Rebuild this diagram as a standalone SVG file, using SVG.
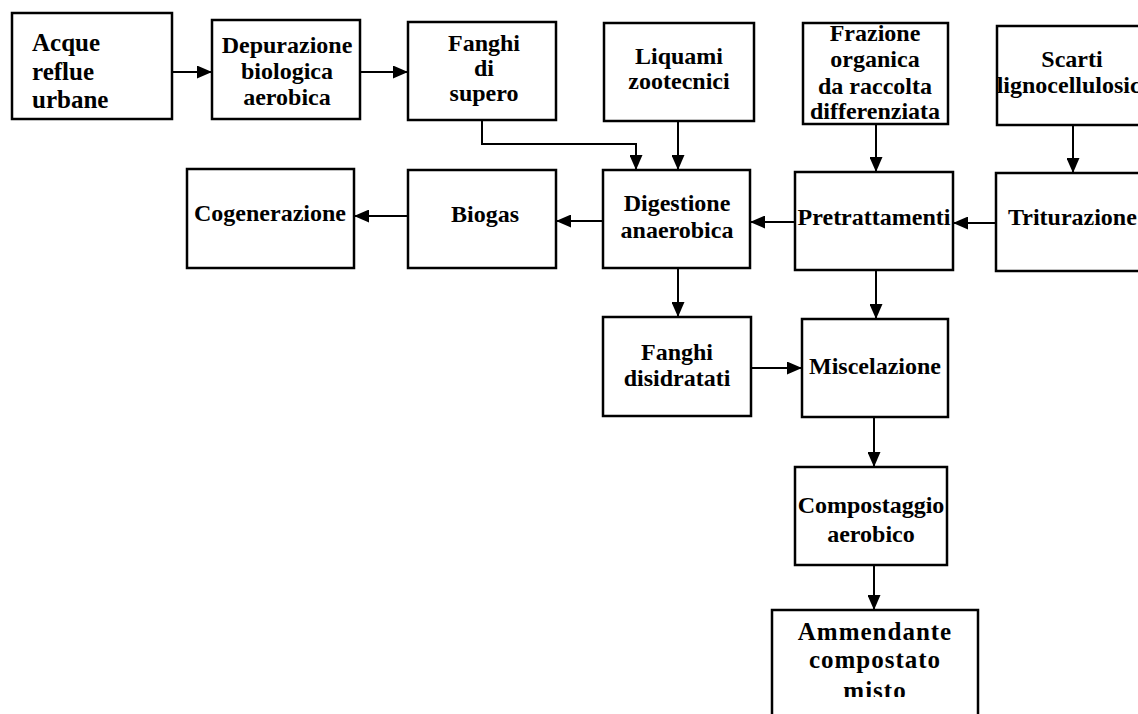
<svg xmlns="http://www.w3.org/2000/svg" width="1138" height="714" viewBox="0 0 1138 714">
<style>
.box{fill:#fff;stroke:#000;stroke-width:2.5}
.t{font-family:"Liberation Serif","Times New Roman",serif;font-weight:bold;font-size:24px;fill:#000;text-anchor:middle}
.l{fill:none;stroke:#000;stroke-width:2}
</style>
<defs>
<marker id="ah" markerUnits="userSpaceOnUse" markerWidth="15" markerHeight="13" refX="14" refY="6.5" orient="auto">
<path d="M0,0 L15,6.5 L0,13 Z" fill="#000"/>
</marker>
<clipPath id="clipAmm"><rect x="760" y="600" width="230" height="97"/></clipPath>
</defs>
<rect width="1138" height="714" fill="#fff"/>

<g id="connectors">
<path class="l" d="M172,72 H211" marker-end="url(#ah)"/>
<path class="l" d="M360,72 H407" marker-end="url(#ah)"/>
<path class="l" d="M482,120 V144 H636 V169" marker-end="url(#ah)"/>
<path class="l" d="M678,121 V169" marker-end="url(#ah)"/>
<path class="l" d="M876,124 V171" marker-end="url(#ah)"/>
<path class="l" d="M1073,125 V172" marker-end="url(#ah)"/>
<path class="l" d="M603,221 H557" marker-end="url(#ah)"/>
<path class="l" d="M408,216 H355" marker-end="url(#ah)"/>
<path class="l" d="M795,222 H751" marker-end="url(#ah)"/>
<path class="l" d="M996,223 H954" marker-end="url(#ah)"/>
<path class="l" d="M678,268 V316" marker-end="url(#ah)"/>
<path class="l" d="M876,270 V318" marker-end="url(#ah)"/>
<path class="l" d="M751,368 H801" marker-end="url(#ah)"/>
<path class="l" d="M874,417 V466" marker-end="url(#ah)"/>
<path class="l" d="M874,565 V609" marker-end="url(#ah)"/>
</g>

<g id="acque">
<rect class="box" x="12" y="13" width="160" height="106"/>
<text class="t" style="text-anchor:start;font-size:25px" x="32" y="51">Acque</text>
<text class="t" style="text-anchor:start;font-size:25px" x="32" y="80">reflue</text>
<text class="t" style="text-anchor:start;font-size:25px" x="32" y="108">urbane</text>
</g>
<g id="depurazione">
<rect class="box" x="212" y="20" width="148" height="99"/>
<text class="t" x="287" y="53">Depurazione</text>
<text class="t" x="287" y="79">biologica</text>
<text class="t" x="287" y="105">aerobica</text>
</g>
<g id="fanghi-supero">
<rect class="box" x="408" y="22" width="148" height="98"/>
<text class="t" x="484" y="51">Fanghi</text>
<text class="t" x="484" y="76">di</text>
<text class="t" x="484" y="101">supero</text>
</g>
<g id="liquami">
<rect class="box" x="604" y="23" width="150" height="98"/>
<text class="t" x="679" y="64">Liquami</text>
<text class="t" x="679" y="89">zootecnici</text>
</g>
<g id="frazione">
<rect class="box" x="803" y="23" width="145" height="101"/>
<text class="t" x="875" y="41">Frazione</text>
<text class="t" x="875" y="67">organica</text>
<text class="t" x="875" y="94">da raccolta</text>
<text class="t" x="875" y="119">differenziata</text>
</g>
<g id="scarti">
<rect class="box" x="997" y="26" width="160" height="99"/>
<text class="t" x="1072" y="67">Scarti</text>
<text class="t" x="1072" y="93">lignocellulosici</text>
</g>
<g id="cogenerazione">
<rect class="box" x="187" y="169" width="167" height="99"/>
<text class="t" x="270" y="221">Cogenerazione</text>
</g>
<g id="biogas">
<rect class="box" x="408" y="170" width="148" height="98"/>
<text class="t" x="485" y="222">Biogas</text>
</g>
<g id="digestione">
<rect class="box" x="603" y="170" width="147" height="98"/>
<text class="t" x="677" y="211">Digestione</text>
<text class="t" x="677" y="238">anaerobica</text>
</g>
<g id="pretrattamenti">
<rect class="box" x="795" y="172" width="158" height="98"/>
<text class="t" x="874" y="225">Pretrattamenti</text>
</g>
<g id="triturazione">
<rect class="box" x="996" y="173" width="160" height="98"/>
<text class="t" style="text-anchor:start" x="1008" y="225">Triturazione</text>
</g>
<g id="fanghi-disidratati">
<rect class="box" x="603" y="317" width="148" height="99"/>
<text class="t" x="677" y="360">Fanghi</text>
<text class="t" x="677" y="386">disidratati</text>
</g>
<g id="miscelazione">
<rect class="box" x="802" y="319" width="146" height="98"/>
<text class="t" x="875" y="374">Miscelazione</text>
</g>
<g id="compostaggio">
<rect class="box" x="795" y="467" width="152" height="98"/>
<text class="t" x="871" y="513">Compostaggio</text>
<text class="t" x="871" y="542">aerobico</text>
</g>
<g id="ammendante">
<rect class="box" x="772" y="610" width="206" height="130"/>
<g clip-path="url(#clipAmm)">
<text class="t" style="font-size:25px;letter-spacing:1px" x="875" y="640">Ammendante</text>
<text class="t" style="font-size:25px;letter-spacing:1px" x="875" y="668">compostato</text>
<text class="t" style="font-size:25px;letter-spacing:1px" x="875" y="699">misto</text>
</g>
</g>
</svg>
